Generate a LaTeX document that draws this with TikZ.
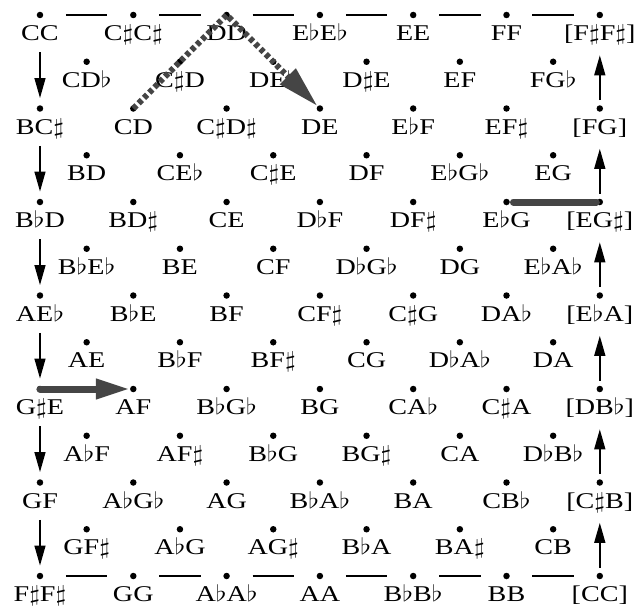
\RequirePackage{fix-cm}
\documentclass[tikz,border=0pt]{standalone}
\usepackage{fontspec}
\setmainfont{Liberation Serif}
\usepackage{graphicx}
\usepackage{tikz}
\usetikzlibrary{arrows.meta,positioning}
\definecolor{markgray}{HTML}{454545}
\newcommand{\Sh}{$\sharp$}
\newcommand{\Fl}{$\flat$}
\newcommand{\wide}[1]{\scalebox{1.25}[1]{#1}}

\begin{document}
\begin{tikzpicture}[x=93.3pt,y=-93.5pt,
  dyad/.style={circle,fill=black,inner sep=0pt,minimum size=6.5pt},
  dyadname/.style={inner sep=0pt,text height=16pt,text depth=4pt,font=\fontsize{22.5}{24}\selectfont},
  stepdown/.style={-{Triangle[length=20pt,width=11pt]},line width=1.4pt,shorten <=7.5pt,shorten >=7pt},
  stepup/.style={-{Triangle[length=20pt,width=11pt]},line width=1.4pt,shorten <=5pt,shorten >=10.5pt},
  link/.style={line width=1.2pt,shorten <=22.5pt,shorten >=22.5pt},
  route/.style={-{Triangle[length=42pt,width=21pt]},line width=6pt,dash pattern=on 4.5pt off 3pt,color=markgray},
  bar/.style={line width=7pt,line cap=round,color=markgray,shorten <=3.5pt},
  move/.style={-{Triangle[length=34pt,width=19pt]},line width=7pt,line cap=round,color=markgray}
]
\useasboundingbox (-0.4287,-0.1604) rectangle (6.3987,6.3209);

% whole-step rows
\foreach \row [count=\ri from 0] in {
  {CC,C\Sh C\Sh,DD,E\Fl E\Fl,EE,FF,[F\Sh F\Sh]},
  {BC\Sh,CD,C\Sh D\Sh,DE,E\Fl F,EF\Sh,[FG]},
  {B\Fl D,BD\Sh,CE,D\Fl F,DF\Sh,E\Fl G,[EG\Sh]},
  {AE\Fl,B\Fl E,BF,CF\Sh,C\Sh G,DA\Fl,[E\Fl A]},
  {G\Sh E,AF,B\Fl G\Fl,BG,CA\Fl,C\Sh A,[DB\Fl]},
  {GF,A\Fl G\Fl,AG,B\Fl A\Fl,BA,CB\Fl,[C\Sh B]},
  {F\Sh F\Sh,GG,A\Fl A\Fl,AA,B\Fl B\Fl,BB,[CC]}}{
  \foreach \txt [count=\ci from 0] in \row {
    \node[dyad] (m-\ri-\ci) at (\ci,\ri) {};
    \node[dyadname,below=6pt of m-\ri-\ci] (m-\ri-\ci-l) {\wide{\txt}};
  }
}

% in-between rows
\foreach \row [count=\ri from 0] in {
  {CD\Fl,C\Sh D,DE\Fl,D\Sh E,EF,FG\Fl},
  {BD,CE\Fl,C\Sh E,DF,E\Fl G\Fl,EG},
  {B\Fl E\Fl,BE,CF,D\Fl G\Fl,DG,E\Fl A\Fl},
  {AE,B\Fl F,BF\Sh,CG,D\Fl A\Fl,DA},
  {A\Fl F,AF\Sh,B\Fl G,BG\Sh,CA,D\Fl B\Fl},
  {GF\Sh,A\Fl G,AG\Sh,B\Fl A,BA\Sh,CB}}{
  \foreach \txt [count=\ci from 0] in \row {
    \node[dyad] (h-\ri-\ci) at (\ci+0.5,\ri+0.5) {};
    \node[dyadname,below=6pt of h-\ri-\ci] (h-\ri-\ci-l) {\wide{\txt}};
  }
}

\foreach \ri/\rn in {0/1,1/2,2/3,3/4,4/5,5/6}{
  \draw[stepdown] (m-\ri-0-l) -- (m-\rn-0);
  \draw[stepup] (m-\rn-6) -- (m-\ri-6-l);
}
\foreach \ci/\cn in {0/1,1/2,2/3,3/4,4/5,5/6}{
  \draw[link] (m-0-\ci) -- (m-0-\cn);
  \draw[link] (m-6-\ci) -- (m-6-\cn);
}

% marked moves
\draw[route] (m-1-1.center) -- (m-0-2.center) -- (m-1-3);
\draw[bar] (m-2-5) -- (m-2-6);
\draw[move] (m-4-0.center) -- (m-4-1);
\end{tikzpicture}
\end{document}
